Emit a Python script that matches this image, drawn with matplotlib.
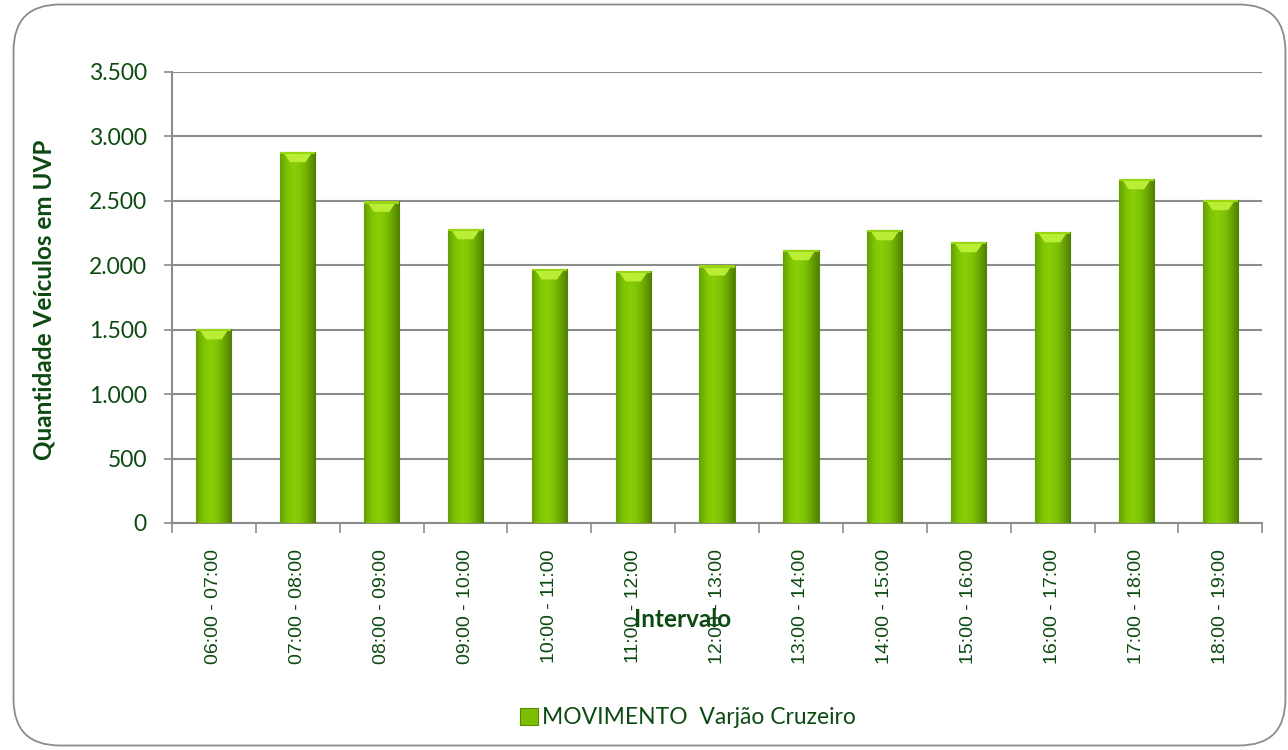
import numpy as np
import matplotlib.pyplot as plt
from matplotlib.patches import FancyBboxPatch, Polygon
from matplotlib.colors import LinearSegmentedColormap
from matplotlib.ticker import FuncFormatter, FixedLocator

intervalos = ["06:00 - 07:00", "07:00 - 08:00", "08:00 - 09:00", "09:00 - 10:00",
              "10:00 - 11:00", "11:00 - 12:00", "12:00 - 13:00", "13:00 - 14:00",
              "14:00 - 15:00", "15:00 - 16:00", "16:00 - 17:00", "17:00 - 18:00",
              "18:00 - 19:00"]
valores = [1505, 2880, 2495, 2282, 1970, 1955, 2000, 2119, 2274, 2181, 2258, 2670, 2507]
serie = "MOVIMENTO  Varjão Cruzeiro"

txt = "#0d4a12"
grid_c = "#8a8d8a"

fig = plt.figure(figsize=(12.88, 7.5), dpi=100)
fig.patch.set_facecolor("white")

# rounded frame around the chart
frame = FancyBboxPatch((0.0105, 0.006), 0.9875, 0.988, boxstyle="round,pad=0,rounding_size=0.036",
                       transform=fig.transFigure, facecolor="none", edgecolor="#8c8c8c",
                       linewidth=1.3, mutation_aspect=1288 / 750, zorder=-1)
fig.patches.append(frame)

ax = fig.add_axes([0.1335, 0.3027, 0.8465, 0.6013])
ax.patch.set_alpha(0)
x = np.arange(len(valores))
bars = ax.bar(x, valores, width=0.42, color="#7cbf02", edgecolor="#5a8a05", linewidth=0.8, zorder=3)

# horizontal gradient on each bar (dark edges, light middle)
cmap = LinearSegmentedColormap.from_list("g", ["#64a003", "#7fc404", "#88cf07", "#80c305", "#6aa503", "#4f7f03"])
grad = np.linspace(0, 1, 64).reshape(1, -1)
for b in bars:
    x0, w, h = b.get_x(), b.get_width(), b.get_height()
    im = ax.imshow(grad, extent=[x0, x0 + w, 0, h], aspect="auto", cmap=cmap, zorder=3.5)
    im.set_clip_path(b)
    # bevelled top cap
    cap = 80
    ax.add_patch(Polygon([(x0 + w * 0.08, h), (x0 + w * 0.92, h), (x0 + w * 0.72, h - cap),
                          (x0 + w * 0.28, h - cap)], closed=True, facecolor="#b9ee35",
                         edgecolor="none", zorder=4))
    ax.bar(x0 + w / 2, 18, bottom=h - 18, width=w, color="#98d612", linewidth=0, zorder=4.1)

ax.set_xlim(-0.5, len(valores) - 0.5)
ax.set_ylim(0, 3500)
ax.set_yticks(np.arange(0, 3501, 500))
ax.yaxis.set_major_formatter(FuncFormatter(lambda v, p: f"{int(v):,}".replace(",", ".")))
ax.grid(axis="y", color=grid_c, linewidth=1.5, zorder=0)
ax.set_axisbelow(True)

ax.set_xticks(x)
ax.set_xticklabels(intervalos, rotation=90, fontsize=14, color=txt, family="Liberation Sans")
ax.tick_params(axis="x", length=0, pad=19)
ax.xaxis.set_minor_locator(FixedLocator(np.arange(-0.5, len(valores), 1)))
ax.tick_params(axis="x", which="minor", length=7, color=grid_c, width=1.2)
ax.tick_params(axis="y", length=6, color=grid_c, width=1.2, labelsize=16.5, labelcolor=txt, pad=12)
for lab in ax.get_yticklabels():
    lab.set_family("Lato")

for s in ["top", "right"]:
    ax.spines[s].set_visible(False)
ax.spines["left"].set_color(grid_c)
ax.spines["bottom"].set_color(grid_c)
ax.spines["left"].set_linewidth(1.5)
ax.spines["bottom"].set_linewidth(1.5)

fig.text(0.034, 0.6, "Quantidade Veículos em UVP", rotation=90, ha="center", va="center",
         fontsize=17.5, fontweight="bold", color=txt, family="Lato")
fig.text(0.530, 0.174, "Intervalo", ha="center", va="center",
         fontsize=17.5, fontweight="bold", color=txt, family="Lato")

leg = ax.legend([bars[0]], [serie], loc="center", bbox_to_anchor=(0.534, 0.043),
                bbox_transform=fig.transFigure, frameon=False, handlelength=0.8,
                handleheight=0.8, handletextpad=0.15, prop={"family": "Lato", "size": 16.5})
for t in leg.get_texts():
    t.set_color(txt)

fig.savefig("out.png", dpi=100)
